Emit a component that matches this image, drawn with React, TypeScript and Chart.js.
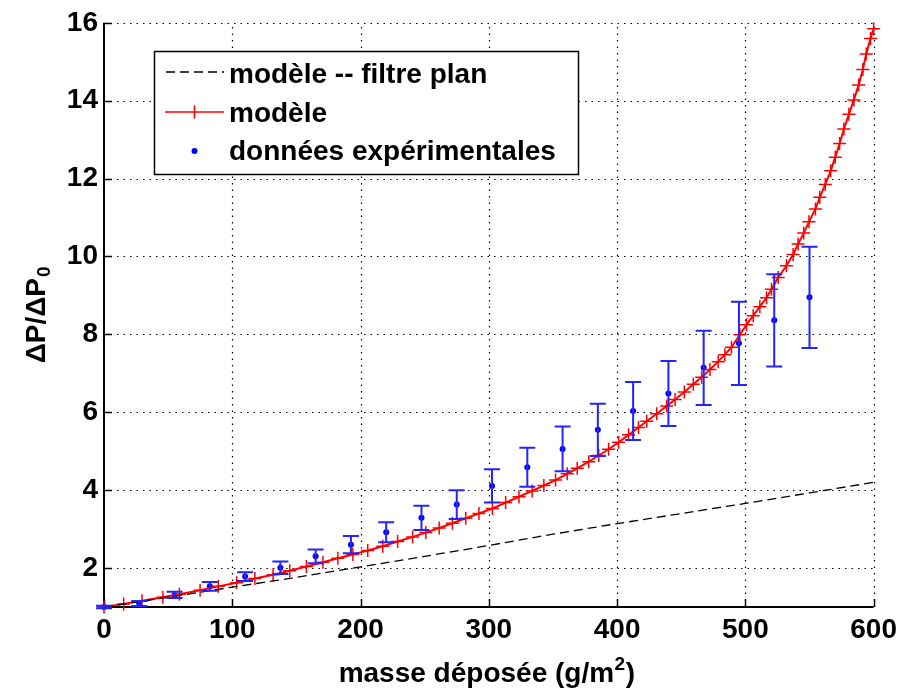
import React, { useEffect, useRef } from 'react';
import { Chart, registerables } from 'chart.js';

Chart.register(...registerables);

// ---------- data ----------
const xTicks = [0, 100, 200, 300, 400, 500, 600];
const yTicks = [2, 4, 6, 8, 10, 12, 14, 16];

// "modèle -- filtre plan" (black dashed)
const planX = [0, 50, 100, 150, 200, 250, 300, 350, 400, 450, 500, 550, 600];
const planY = [1.0, 1.25, 1.51, 1.76, 2.03, 2.30, 2.58, 2.87, 3.14, 3.40, 3.66, 3.93, 4.20];

// "modèle" (red line with + markers)
const modelX = [0, 15.3, 29.6, 45.9, 58.8, 74.9, 89.1, 103.4, 117.6, 131.8,
  144.8, 157.8, 170.7, 182.3, 194, 205.6, 217.3, 228.9, 240.6, 250.9,
  261.3, 271.6, 282, 292.3, 302.8, 313.1, 323.5, 333.8, 342.9, 352,
  361.1, 368.9, 377.9, 385.7, 393.4, 401.2, 408.9, 416.7, 423.1, 430.9,
  438.7, 445.2, 452.4, 459.4, 465.9, 472.4, 478.8, 484, 489.2, 495.7,
  500.9, 506.1, 511.3, 516.5, 520.4, 525.6, 532, 537.2, 541.1, 545.5,
  549.6, 554.6, 558, 562.3, 566.5, 570.1, 573.5, 576.8, 580.7, 584.6,
  588.3, 591.6, 594.2, 597.6, 600];
const modelY = [1.00, 1.08, 1.16, 1.25, 1.33, 1.43, 1.53, 1.62, 1.73, 1.83,
  1.93, 2.04, 2.15, 2.25, 2.35, 2.45, 2.56, 2.68, 2.80, 2.91,
  3.03, 3.15, 3.28, 3.40, 3.53, 3.68, 3.83, 3.98, 4.12, 4.26,
  4.42, 4.56, 4.73, 4.89, 5.05, 5.23, 5.42, 5.61, 5.77, 5.96,
  6.16, 6.33, 6.52, 6.72, 6.90, 7.10, 7.30, 7.48, 7.67, 7.99,
  8.25, 8.48, 8.71, 8.94, 9.16, 9.46, 9.76, 10.05, 10.32, 10.60,
  10.89, 11.22, 11.52, 11.85, 12.2, 12.55, 12.9, 13.27, 13.65, 14.02,
  14.4, 14.8, 15.2, 15.6, 15.85];

// "données expérimentales" (blue points with error bars)
const expX = [0, 27.5, 55, 82.5, 110, 137.5, 165, 192.5, 220, 247.5, 275,
  302.5, 330, 357.5, 385, 412.5, 440, 467.5, 495, 522.5, 550];
const expY = [1.0, 1.09, 1.31, 1.53, 1.78, 2.01, 2.30, 2.60, 2.92, 3.29, 3.63,
  4.11, 4.59, 5.06, 5.55, 6.03, 6.48, 7.14, 7.77, 8.36, 8.95];
const expErr = [0.03, 0.065, 0.08, 0.11, 0.115, 0.16, 0.175, 0.22, 0.255, 0.31, 0.37,
  0.43, 0.5, 0.575, 0.67, 0.745, 0.835, 0.955, 1.07, 1.185, 1.3];

const legendLabels = ['modèle -- filtre plan', 'modèle', 'données expérimentales'];
const xTitleMain = 'masse déposée (g/m';
const xTitleSup = '2';
const xTitleEnd = ')';
const yTitleMain = 'ΔP/ΔP';
const yTitleSub = '0';

// ---------- styles ----------
const FAMILY = "'Liberation Sans', Arial, Helvetica, sans-serif";
const BIG = `bold 28px ${FAMILY}`;
const SMALL = `bold 19px ${FAMILY}`;
const RED = '#ff0000';
const BLUE = '#0000ff';
const BAR_BLUE = '#2424ff';

const decor = {
  id: 'matlabDecor',
  beforeDatasetsDraw(chart: any) {
    const { ctx, chartArea: a, scales } = chart;
    const xs = scales.x;
    const ys = scales.y;
    ctx.save();
    // dotted grid
    ctx.strokeStyle = '#000';
    ctx.lineWidth = 1.2;
    ctx.setLineDash([1.5, 5]);
    for (const v of xTicks) {
      if (v === xTicks[0]) continue;
      const px = Math.round(xs.getPixelForValue(v)) + 0.5;
      ctx.beginPath();
      ctx.moveTo(px, a.bottom);
      ctx.lineTo(px, a.top);
      ctx.stroke();
    }
    for (const v of yTicks) {
      const py = Math.round(ys.getPixelForValue(v)) + 0.5;
      ctx.beginPath();
      ctx.moveTo(a.left, py);
      ctx.lineTo(a.right, py);
      ctx.stroke();
    }
    ctx.setLineDash([]);
    // solid axes
    ctx.lineWidth = 2;
    ctx.strokeStyle = '#000';
    ctx.beginPath();
    ctx.moveTo(a.left, a.top);
    ctx.lineTo(a.left, a.bottom);
    ctx.lineTo(a.right, a.bottom);
    ctx.stroke();
    // inward tick marks
    ctx.lineWidth = 1.5;
    for (const v of xTicks) {
      const px = Math.round(xs.getPixelForValue(v)) + 0.5;
      ctx.beginPath();
      ctx.moveTo(px, a.bottom);
      ctx.lineTo(px, a.bottom - 8);
      ctx.stroke();
    }
    for (const v of yTicks) {
      const py = Math.round(ys.getPixelForValue(v)) + 0.5;
      ctx.beginPath();
      ctx.moveTo(a.left, py);
      ctx.lineTo(a.left + 8, py);
      ctx.stroke();
    }
    ctx.restore();
  },
  afterDatasetsDraw(chart: any) {
    const { ctx, chartArea: a, scales } = chart;
    const xs = scales.x;
    const ys = scales.y;
    ctx.save();
    // error bars
    ctx.strokeStyle = BAR_BLUE;
    ctx.lineWidth = 2;
    expX.forEach((xv, i) => {
      const px = xs.getPixelForValue(xv);
      const top = ys.getPixelForValue(expY[i] + expErr[i]);
      const bot = ys.getPixelForValue(expY[i] - expErr[i]);
      ctx.beginPath();
      ctx.moveTo(px, top);
      ctx.lineTo(px, bot);
      ctx.moveTo(px - 8, top);
      ctx.lineTo(px + 8, top);
      ctx.moveTo(px - 8, bot);
      ctx.lineTo(px + 8, bot);
      ctx.stroke();
    });

    // legend
    const lx = 154.5, ly = 51.5, lw = 424, lh = 123;
    ctx.fillStyle = '#fff';
    ctx.fillRect(lx, ly, lw, lh);
    ctx.strokeStyle = '#000';
    ctx.lineWidth = 1.5;
    ctx.strokeRect(lx, ly, lw, lh);
    const rowsY = [72, 112, 151];
    const baseY = [83, 121.5, 160];
    // row 1 dashed
    ctx.strokeStyle = '#000';
    ctx.lineWidth = 1.3;
    ctx.setLineDash([9, 5]);
    ctx.beginPath();
    ctx.moveTo(166, rowsY[0]);
    ctx.lineTo(224, rowsY[0]);
    ctx.stroke();
    ctx.setLineDash([]);
    // row 2 red line + cross
    ctx.strokeStyle = RED;
    ctx.lineWidth = 1.6;
    ctx.beginPath();
    ctx.moveTo(165, rowsY[1]);
    ctx.lineTo(224, rowsY[1]);
    ctx.moveTo(194.5, rowsY[1] - 6.5);
    ctx.lineTo(194.5, rowsY[1] + 6.5);
    ctx.stroke();
    // row 3 blue dot
    ctx.fillStyle = BLUE;
    ctx.beginPath();
    ctx.arc(194.5, rowsY[2], 3, 0, Math.PI * 2);
    ctx.fill();
    // labels
    ctx.fillStyle = '#000';
    ctx.font = BIG;
    ctx.textAlign = 'left';
    ctx.textBaseline = 'alphabetic';
    legendLabels.forEach((t, i) => ctx.fillText(t, 229, baseY[i]));

    // x title
    ctx.font = BIG;
    const w1 = ctx.measureText(xTitleMain).width;
    ctx.font = SMALL;
    const w2 = ctx.measureText(xTitleSup).width;
    ctx.font = BIG;
    const w3 = ctx.measureText(xTitleEnd).width;
    const total = w1 + w2 + w3 + 1;
    const cx = (a.left + a.right) / 2 - 2;
    let sx = cx - total / 2;
    const bx = 682;
    ctx.fillText(xTitleMain, sx, bx);
    sx += w1;
    ctx.font = SMALL;
    ctx.fillText(xTitleSup, sx + 0.5, bx - 12);
    sx += w2 + 1;
    ctx.font = BIG;
    ctx.fillText(xTitleEnd, sx, bx);

    // y title (rotated)
    ctx.font = BIG;
    const m1 = ctx.measureText(yTitleMain).width;
    ctx.font = SMALL;
    const m2 = ctx.measureText(yTitleSub).width;
    const ytot = m1 + m2 + 1;
    const cy = (a.top + a.bottom) / 2;
    ctx.translate(45, cy + ytot / 2);
    ctx.rotate(-Math.PI / 2);
    ctx.font = BIG;
    ctx.fillText(yTitleMain, 0, 0);
    ctx.font = SMALL;
    ctx.fillText(yTitleSub, m1 + 1, 5);
    ctx.restore();
  },
};

export default function App() {
  const ref = useRef<HTMLCanvasElement | null>(null);
  useEffect(() => {
    document.body.style.margin = '0';
    const canvas = ref.current;
    if (!canvas) return;
    const tickFont = { family: FAMILY, size: 28, weight: 'bold' as const };
    const chart = new Chart(canvas, {
      type: 'scatter',
      data: {
        datasets: [
          {
            label: legendLabels[0],
            data: planX.map((x, i) => ({ x, y: planY[i] })),
            showLine: true,
            borderColor: '#000',
            borderWidth: 1.3,
            borderDash: [9, 5],
            pointRadius: 0,
            fill: false,
            clip: false as any,
          },
          {
            label: legendLabels[1],
            data: modelX.map((x, i) => ({ x, y: modelY[i] })),
            showLine: true,
            borderColor: RED,
            borderWidth: 2,
            pointStyle: 'cross',
            pointRadius: 6.5,
            pointBorderWidth: 1.5,
            pointBorderColor: RED,
            pointBackgroundColor: RED,
            fill: false,
            clip: false as any,
          },
          {
            label: legendLabels[2],
            data: expX.map((x, i) => ({ x, y: expY[i] })),
            showLine: false,
            pointStyle: 'circle',
            pointRadius: 3,
            pointBorderWidth: 0,
            pointBackgroundColor: BLUE,
            pointBorderColor: BLUE,
            clip: false as any,
          },
        ],
      },
      options: {
        animation: false,
        responsive: false,
        devicePixelRatio: 1,
        layout: { padding: { top: 20, right: 27, left: 0, bottom: 0 } },
        plugins: { legend: { display: false }, tooltip: { enabled: false } },
        scales: {
          x: {
            type: 'linear',
            min: 0,
            max: 600,
            grid: { display: false, drawTicks: false },
            border: { display: false },
            ticks: { font: tickFont, color: '#000', padding: 6, maxRotation: 0, autoSkip: false },
            afterBuildTicks: (s: any) => { s.ticks = xTicks.map((v) => ({ value: v })); },
            afterFit: (s: any) => { s.height = 82; },
          },
          y: {
            type: 'linear',
            min: 1,
            max: 16,
            grid: { display: false, drawTicks: false },
            border: { display: false },
            ticks: { font: tickFont, color: '#000', padding: 6, autoSkip: false },
            afterBuildTicks: (s: any) => { s.ticks = yTicks.map((v) => ({ value: v })); },
            afterFit: (s: any) => { s.width = 104; },
          },
        },
      },
      plugins: [decor],
    });
    return () => chart.destroy();
  }, []);
  return (
    <div style={{ width: 903, height: 689, overflow: 'hidden', background: '#fff' }}>
      <canvas ref={ref} width={903} height={689} style={{ display: 'block' }} />
    </div>
  );
}
